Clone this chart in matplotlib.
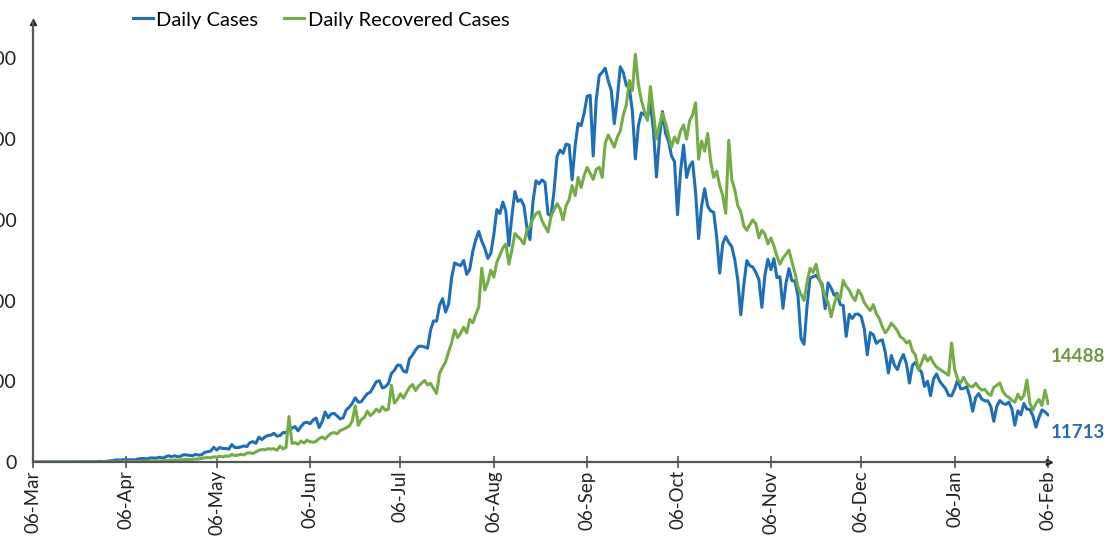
import pandas as pd
import matplotlib
matplotlib.use("Agg")
import matplotlib.pyplot as plt
import matplotlib.dates as mdates

plt.rcParams['font.family'] = ['Lato', 'DejaVu Sans']

# --- data (one value per day, 06-Mar-2020 .. 06-Feb-2021) ---
start_date = "2020-03-06"
end_date = "2021-02-06"

cases_mar = [2, 1, 3, 5, 9, 15, 8, 11, 16, 10, 12, 18, 16, 27, 28, 63, 77, 74, 102, 68,
             86, 88, 160, 150, 118, 228]
cases_apr = [303, 437, 535, 478, 577, 514, 571, 569, 543, 764, 868, 821, 786, 1011, 980,
             988, 1167, 989, 1278, 1542, 1285, 1566, 1293, 1423, 1773, 1755, 1627, 1586, 1870, 1701]
cases_may = [1809, 2397, 2539, 2694, 3656, 2971, 3602, 3344, 3339, 3175, 4311, 3592, 3562, 3726,
             3991, 3808, 4794, 5049, 4630, 6147, 5553, 6198, 6568, 6629, 7111, 6415, 6535, 7300,
             7254, 8138, 8364]
cases_jun = [8789, 7723, 8812, 9689, 9847, 9472, 10408, 10882, 8536, 9981, 12375, 10956, 11929,
             12039, 11374, 10667, 10974, 12881, 13586, 14516, 15915, 14821, 14933, 15968, 16922,
             17296, 18552, 19906, 20131, 18339]
cases_jul = [18641, 19429, 21947, 22718, 24015, 23932, 22510, 22252, 25559, 26506, 27755, 28637,
             28701, 28498, 28178, 32695, 34956, 34884, 38902, 40425, 37148, 39170, 45720, 49310,
             48916, 48661, 49931, 46484, 47703, 52123, 55079]
cases_aug = [57118, 54736, 52972, 50431, 51706, 56282, 62538, 61537, 64399, 62064, 53601, 60963,
             66999, 64553, 65002, 63490, 57981, 55079, 64531, 69652, 68898, 69878, 69239, 61408,
             60975, 67151, 75760, 77266, 76472, 78761, 78512]
cases_sep = [69921, 78357, 83883, 83341, 86432, 90632, 90802, 75809, 89706, 95735, 96551, 97570,
             94372, 92071, 83809, 90123, 97894, 96424, 93337, 92605, 86961, 75083, 83347, 86508,
             86052, 85362, 88600, 82170, 70589, 80472]
cases_oct = [86821, 81484, 79476, 75829, 74442, 61267, 72049, 78524, 70496, 73272, 74383, 66732,
             55342, 63509, 67708, 63371, 62212, 61871, 55722, 46790, 54044, 55839, 54366, 53370,
             50129, 45149, 36469, 43893, 49881, 48648, 48268]
cases_nov = [46963, 45231, 38310, 46254, 50210, 47638, 50357, 45674, 45903, 38073, 44281, 47905,
             44878, 44879, 41100, 30548, 29163, 38617, 45576, 45882, 46232, 45209, 44059, 37975,
             44376, 43082, 41322, 41810, 39000, 38772]
cases_dec = [31118, 36604, 35551, 36595, 36652, 36011, 32981, 26567, 32080, 31522, 29398, 30006,
             30254, 27071, 22065, 26382, 24010, 22890, 25152, 26624, 24337, 19556, 23950, 24712,
             23067, 22273, 18732, 20021, 16432, 20550, 21822]
cases_jan = [20035, 19079, 18177, 16505, 16375, 18088, 20346, 18139, 18222, 18645, 16311, 12584,
             15968, 16946, 15590, 15158, 15144, 13788, 10064, 13823, 15223, 14545, 14256, 14849,
             13203, 9102, 12689, 11666, 14500, 13083, 13052]
cases_feb = [11427, 8635, 11039, 12899, 12408, 11713]

recov_mar = [0, 0, 0, 0, 1, 0, 0, 3, 1, 0, 2, 0, 4, 1, 3, 0, 2, 5, 10, 7, 12, 9, 16, 15, 20, 28]
recov_apr = [32, 48, 55, 70, 60, 95, 110, 90, 125, 110, 160, 190, 150, 230, 190, 240, 260, 270,
             400, 450, 380, 520, 410, 540, 580, 650, 600, 690, 720, 780]
recov_may = [900, 1050, 1100, 1020, 1300, 1200, 1450, 1270, 1500, 1400, 1850, 1600, 1700, 1900,
             1750, 2200, 2300, 2100, 2500, 2900, 3100, 3000, 3300, 3200, 3280, 2900, 3930, 3270,
             3600, 11260, 4600]
recov_jun = [4800, 4400, 5200, 4700, 5400, 5000, 4900, 5100, 5800, 6200, 5700, 6500, 7100, 7300,
             7000, 7800, 8100, 8500, 8900, 10200, 13900, 9100, 10500, 11000, 12600, 11500, 12100,
             13100, 12400, 13700]
recov_jul = [12800, 13100, 19000, 14600, 15500, 16900, 15800, 17200, 18500, 19200, 17700, 18800,
             19500, 20200, 19100, 19500, 18200, 17000, 22000, 23500, 24800, 27300, 29600, 32700,
             30800, 31900, 33400, 32000, 35300, 34500, 36500]
recov_aug = [38400, 48000, 42600, 44500, 47500, 45800, 49500, 51200, 53000, 54000, 49000, 52500,
             56600, 55800, 55100, 54000, 57500, 58400, 60200, 61500, 62000, 59800, 58300, 57000,
             60800, 62500, 64000, 62700, 60000, 63500, 65000]
recov_sep = [68500, 66000, 70500, 68000, 71000, 73000, 71500, 70000, 72500, 73000, 70500, 79000,
             81000, 79500, 78000, 80500, 82000, 86000, 88500, 94500, 92000, 101000, 93500, 89600,
             87000, 84600, 93000, 86500, 80000, 83500]
recov_oct = [86400, 84000, 81000, 78000, 80500, 79000, 82000, 83500, 80000, 84500, 86000, 89000,
             75000, 79500, 77000, 81400, 74500, 70500, 72000, 68500, 66000, 61600, 79700, 70000,
             67500, 63500, 62000, 58500, 57400, 58800, 60000]
recov_nov = [59000, 55500, 57400, 56500, 54000, 55500, 53500, 51000, 49000, 50500, 51500, 52500,
             49500, 46800, 43300, 41500, 40000, 44500, 48000, 47000, 49000, 45500, 43300, 41000,
             39500, 36000, 39000, 41500, 40500, 45000]
recov_dec = [43500, 42600, 41000, 40000, 42600, 41500, 39500, 38400, 37500, 39000, 36800, 35500,
             33500, 32000, 33000, 34400, 33500, 32500, 31000, 30500, 29500, 30000, 27500, 26500,
             22800, 24500, 26500, 25000, 26000, 24500, 23500]
recov_jan = [23000, 22500, 22000, 21500, 29500, 23000, 20500, 19600, 21000, 19500, 18800, 18600,
             19500, 18500, 17800, 18000, 17000, 16500, 18500, 19000, 19600, 17500, 16500, 16000,
             15300, 14800, 16800, 15500, 16500, 20300, 14500]
recov_feb = [12900, 14500, 15500, 14000, 17800, 14488]

tick_dates = ["2020-03-06", "2020-04-06", "2020-05-06", "2020-06-06", "2020-07-06", "2020-08-06",
              "2020-09-06", "2020-10-06", "2020-11-06", "2020-12-06", "2021-01-06", "2021-02-06"]
y_ticks = [0, 20000, 40000, 60000, 80000, 100000]

daily_cases = (cases_mar + cases_apr + cases_may + cases_jun + cases_jul + cases_aug +
               cases_sep + cases_oct + cases_nov + cases_dec + cases_jan + cases_feb)
daily_recovered = (recov_mar + recov_apr + recov_may + recov_jun + recov_jul + recov_aug +
                   recov_sep + recov_oct + recov_nov + recov_dec + recov_jan + recov_feb)
dates = pd.date_range(start_date, end_date, freq="D")

blue = "#1f6fb8"
green = "#74ad45"
axis_col = "#555555"

fig = plt.figure(figsize=(11.07, 5.40), dpi=100)
ax = fig.add_axes([33 / 1107, 1 - 462 / 540, (1049 - 33) / 1107, (462 - 22) / 540])

ax.plot(dates, daily_cases, color=blue, lw=2.2, label="Daily Cases")
ax.plot(dates, daily_recovered, color=green, lw=2.2, label="Daily Recovered Cases")

ax.set_ylim(0, 109000)
ax.set_xlim(dates[0], dates[-1] + pd.Timedelta(hours=8))

ax.set_xticks(pd.to_datetime(tick_dates))
ax.xaxis.set_major_formatter(mdates.DateFormatter("%d-%b"))
ax.set_yticks(y_ticks)
ax.tick_params(axis="x", rotation=90, direction="inout", length=8, width=1.2,
               color=axis_col, labelsize=13.5, labelcolor="#222222", pad=2)
ax.tick_params(axis="y", length=0, labelsize=14, labelcolor="#222222", pad=12)

for s in ["top", "right"]:
    ax.spines[s].set_visible(False)
for s in ["left", "bottom"]:
    ax.spines[s].set_color(axis_col)
    ax.spines[s].set_linewidth(1.6)

# small arrow heads at the ends of the axes
ax.plot(1, 0, ">", color="#222222", ms=4, transform=ax.transAxes, clip_on=False)
ax.plot(0, 1, "^", color="#222222", ms=4, transform=ax.transAxes, clip_on=False)

# end value labels
ax.annotate(f"{daily_recovered[-1]}", xy=(dates[-1], daily_recovered[-1]),
            xytext=(2, 34), textcoords="offset points", ha="left", va="center",
            color="#6b9a3e", fontsize=13.5, fontweight="bold", annotation_clip=False)
ax.annotate(f"{daily_cases[-1]}", xy=(dates[-1], daily_cases[-1]),
            xytext=(2, -13), textcoords="offset points", ha="left", va="center",
            color="#2b6cae", fontsize=13.5, fontweight="bold", annotation_clip=False)

fig.legend(loc="center left", bbox_to_anchor=(133 / 1107, 1 - 20 / 540), ncol=2,
           frameon=False, fontsize=14.5, handlelength=1.0, handletextpad=0.15,
           columnspacing=1.3, borderaxespad=0, borderpad=0)

fig.savefig("out.png", dpi=100)
